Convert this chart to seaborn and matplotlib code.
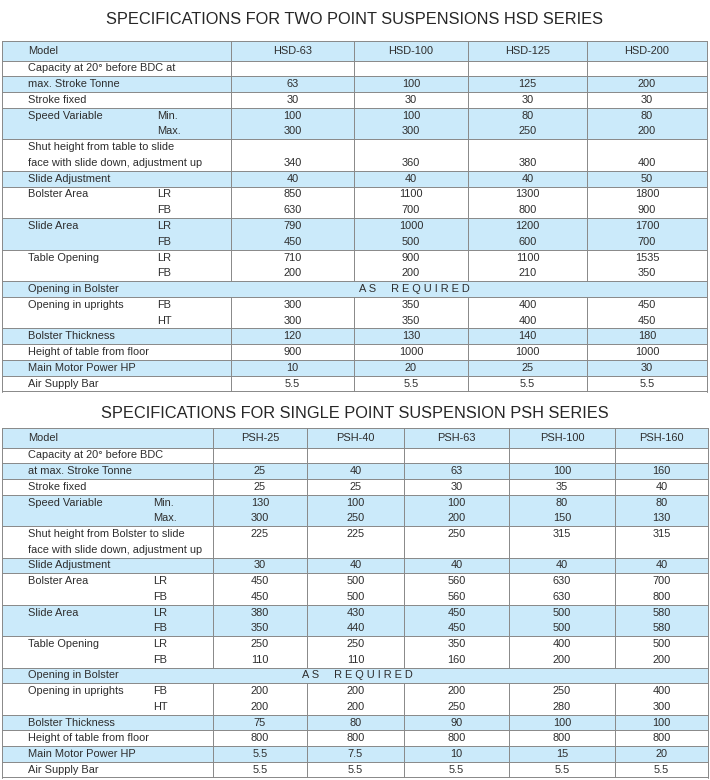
import matplotlib
matplotlib.use("Agg")
import matplotlib.pyplot as plt
import seaborn as sns
from matplotlib.patches import Rectangle

# --- data: two point suspensions HSD series ---
hsd_title = "SPECIFICATIONS FOR TWO POINT SUSPENSIONS HSD SERIES"
hsd_models = ["HSD-63", "HSD-100", "HSD-125", "HSD-200"]
hsd_capacity = [63, 100, 125, 200]
hsd_stroke = [30, 30, 30, 30]
hsd_speed_min = [100, 100, 80, 80]
hsd_speed_max = [300, 300, 250, 200]
hsd_shut_height = [340, 360, 380, 400]
hsd_slide_adj = [40, 40, 40, 50]
hsd_bolster_lr = [850, 1100, 1300, 1800]
hsd_bolster_fb = [630, 700, 800, 900]
hsd_slide_lr = [790, 1000, 1200, 1700]
hsd_slide_fb = [450, 500, 600, 700]
hsd_table_lr = [710, 900, 1100, 1535]
hsd_table_fb = [200, 200, 210, 350]
hsd_upright_fb = [300, 350, 400, 450]
hsd_upright_ht = [300, 350, 400, 450]
hsd_bolster_thk = [120, 130, 140, 180]
hsd_table_height = [900, 1000, 1000, 1000]
hsd_motor_hp = [10, 20, 25, 30]
hsd_air_bar = [5.5, 5.5, 5.5, 5.5]

# --- data: single point suspension PSH series ---
psh_title = "SPECIFICATIONS FOR SINGLE POINT SUSPENSION PSH SERIES"
psh_models = ["PSH-25", "PSH-40", "PSH-63", "PSH-100", "PSH-160"]
psh_capacity = [25, 40, 63, 100, 160]
psh_stroke = [25, 25, 30, 35, 40]
psh_speed_min = [130, 100, 100, 80, 80]
psh_speed_max = [300, 250, 200, 150, 130]
psh_shut_height = [225, 225, 250, 315, 315]
psh_slide_adj = [30, 40, 40, 40, 40]
psh_bolster_lr = [450, 500, 560, 630, 700]
psh_bolster_fb = [450, 500, 560, 630, 800]
psh_slide_lr = [380, 430, 450, 500, 580]
psh_slide_fb = [350, 440, 450, 500, 580]
psh_table_lr = [250, 250, 350, 400, 500]
psh_table_fb = [110, 110, 160, 200, 200]
psh_upright_fb = [200, 200, 200, 250, 400]
psh_upright_ht = [200, 200, 250, 280, 300]
psh_bolster_thk = [75, 80, 90, 100, 100]
psh_table_height = [800, 800, 800, 800, 800]
psh_motor_hp = [5.5, 7.5, 10, 15, 20]
psh_air_bar = [5.5, 5.5, 5.5, 5.5, 5.5]

AS_REQUIRED = "A S     R E Q U I R E D"

sns.set_theme(style="white")
plt.rcParams["font.family"] = ["Liberation Sans", "DejaVu Sans"]

BLUE = "#cbeafa"
GRID = "#888888"
TXT = "#2e2e2e"


def hsd_rows():
    return [
        ([("Capacity at 20° before BDC at", "", None)], False),
        ([("max. Stroke Tonne", "", hsd_capacity)], True),
        ([("Stroke fixed", "", hsd_stroke)], False),
        ([("Speed Variable", "Min.", hsd_speed_min), ("", "Max.", hsd_speed_max)], True),
        ([("Shut height from table to slide", "", None),
          ("face with slide down, adjustment up", "", hsd_shut_height)], False),
        ([("Slide Adjustment", "", hsd_slide_adj)], True),
        ([("Bolster Area", "LR", hsd_bolster_lr), ("", "FB", hsd_bolster_fb)], False),
        ([("Slide Area", "LR", hsd_slide_lr), ("", "FB", hsd_slide_fb)], True),
        ([("Table Opening", "LR", hsd_table_lr), ("", "FB", hsd_table_fb)], False),
        ([("Opening in Bolster", "", AS_REQUIRED)], True),
        ([("Opening in uprights", "FB", hsd_upright_fb), ("", "HT", hsd_upright_ht)], False),
        ([("Bolster Thickness", "", hsd_bolster_thk)], True),
        ([("Height of table from floor", "", hsd_table_height)], False),
        ([("Main Motor Power HP", "", hsd_motor_hp)], True),
        ([("Air Supply Bar", "", hsd_air_bar)], False),
    ]


def psh_rows():
    return [
        ([("Capacity at 20° before BDC", "", None)], False),
        ([("at max. Stroke Tonne", "", psh_capacity)], True),
        ([("Stroke fixed", "", psh_stroke)], False),
        ([("Speed Variable", "Min.", psh_speed_min), ("", "Max.", psh_speed_max)], True),
        ([("Shut height from Bolster to slide", "", psh_shut_height),
          ("face with slide down, adjustment up", "", None)], False),
        ([("Slide Adjustment", "", psh_slide_adj)], True),
        ([("Bolster Area", "LR", psh_bolster_lr), ("", "FB", psh_bolster_fb)], False),
        ([("Slide Area", "LR", psh_slide_lr), ("", "FB", psh_slide_fb)], True),
        ([("Table Opening", "LR", psh_table_lr), ("", "FB", psh_table_fb)], False),
        ([("Opening in Bolster", "", AS_REQUIRED)], True),
        ([("Opening in uprights", "FB", psh_upright_fb), ("", "HT", psh_upright_ht)], False),
        ([("Bolster Thickness", "", psh_bolster_thk)], True),
        ([("Height of table from floor", "", psh_table_height)], False),
        ([("Main Motor Power HP", "", psh_motor_hp)], True),
        ([("Air Supply Bar", "", psh_air_bar)], False),
    ]


def fmt(v):
    return f"{v:g}"


def draw_table(ax, title, title_y, top, bottom, edges, models, rows, sub_x, span_x):
    left, right = edges[0], edges[-1]
    head_h = 19.5
    n_lines = sum(len(r[0]) for r in rows)
    line_h = (bottom - top - head_h) / n_lines
    centers = [(a + b) / 2 for a, b in zip(edges[1:-1], edges[2:])]
    fs = 7.95

    ax.text((left + right) / 2, title_y, title, ha="center", va="center",
            fontsize=11.8, color="#262626")

    # header row
    ax.add_patch(Rectangle((left, top), right - left, head_h, color=BLUE, lw=0))
    ax.text(28, top + head_h / 2, "Model", ha="left", va="center", fontsize=fs, color=TXT)
    for cx, m in zip(centers, models):
        ax.text(cx, top + head_h / 2, m, ha="center", va="center", fontsize=fs, color=TXT)
    ax.plot([left, right], [top + head_h] * 2, color=GRID, lw=0.7)

    y = top + head_h
    for lines, shaded in rows:
        h = line_h * len(lines)
        if shaded:
            ax.add_patch(Rectangle((left, y), right - left, h, color=BLUE, lw=0))
        span = False
        for i, (label, sub, vals) in enumerate(lines):
            yc = y + line_h * (i + 0.5)
            if label:
                ax.text(28, yc, label, ha="left", va="center", fontsize=fs, color=TXT)
            if sub:
                ax.text(sub_x, yc, sub, ha="left", va="center", fontsize=fs, color=TXT)
            if isinstance(vals, str):
                span = True
                ax.text(span_x, yc, vals, ha="center", va="center", fontsize=fs, color=TXT)
            elif vals is not None:
                for cx, v in zip(centers, vals):
                    ax.text(cx, yc, fmt(v), ha="center", va="center", fontsize=fs, color=TXT)
        if not span:
            for x in edges[1:-1]:
                ax.plot([x, x], [y, y + h], color=GRID, lw=0.7)
        y += h
        ax.plot([left, right], [y, y], color=GRID, lw=0.7)

    ax.plot([left, left], [top, bottom], color=GRID, lw=0.7)
    ax.plot([left, right], [top, top], color=GRID, lw=0.7)
    for x in edges[1:-1]:
        ax.plot([x, x], [top, top + head_h], color=GRID, lw=0.7)
    ax.plot([right, right], [top, bottom], color=GRID, lw=0.7)


fig = plt.figure(figsize=(7.1, 7.8), dpi=100)
ax = fig.add_axes([0, 0, 1, 1])
ax.set_xlim(0, 710)
ax.set_ylim(780, 0)
ax.axis("off")

draw_table(ax, hsd_title, 20, 41, 391.5, [2, 231, 354, 468, 587, 707],
           hsd_models, hsd_rows(), 157, 414)
draw_table(ax, psh_title, 414, 428, 777.5, [2, 213, 307, 404, 509, 615, 708],
           psh_models, psh_rows(), 153, 357)

fig.savefig("out.png", dpi=100)
